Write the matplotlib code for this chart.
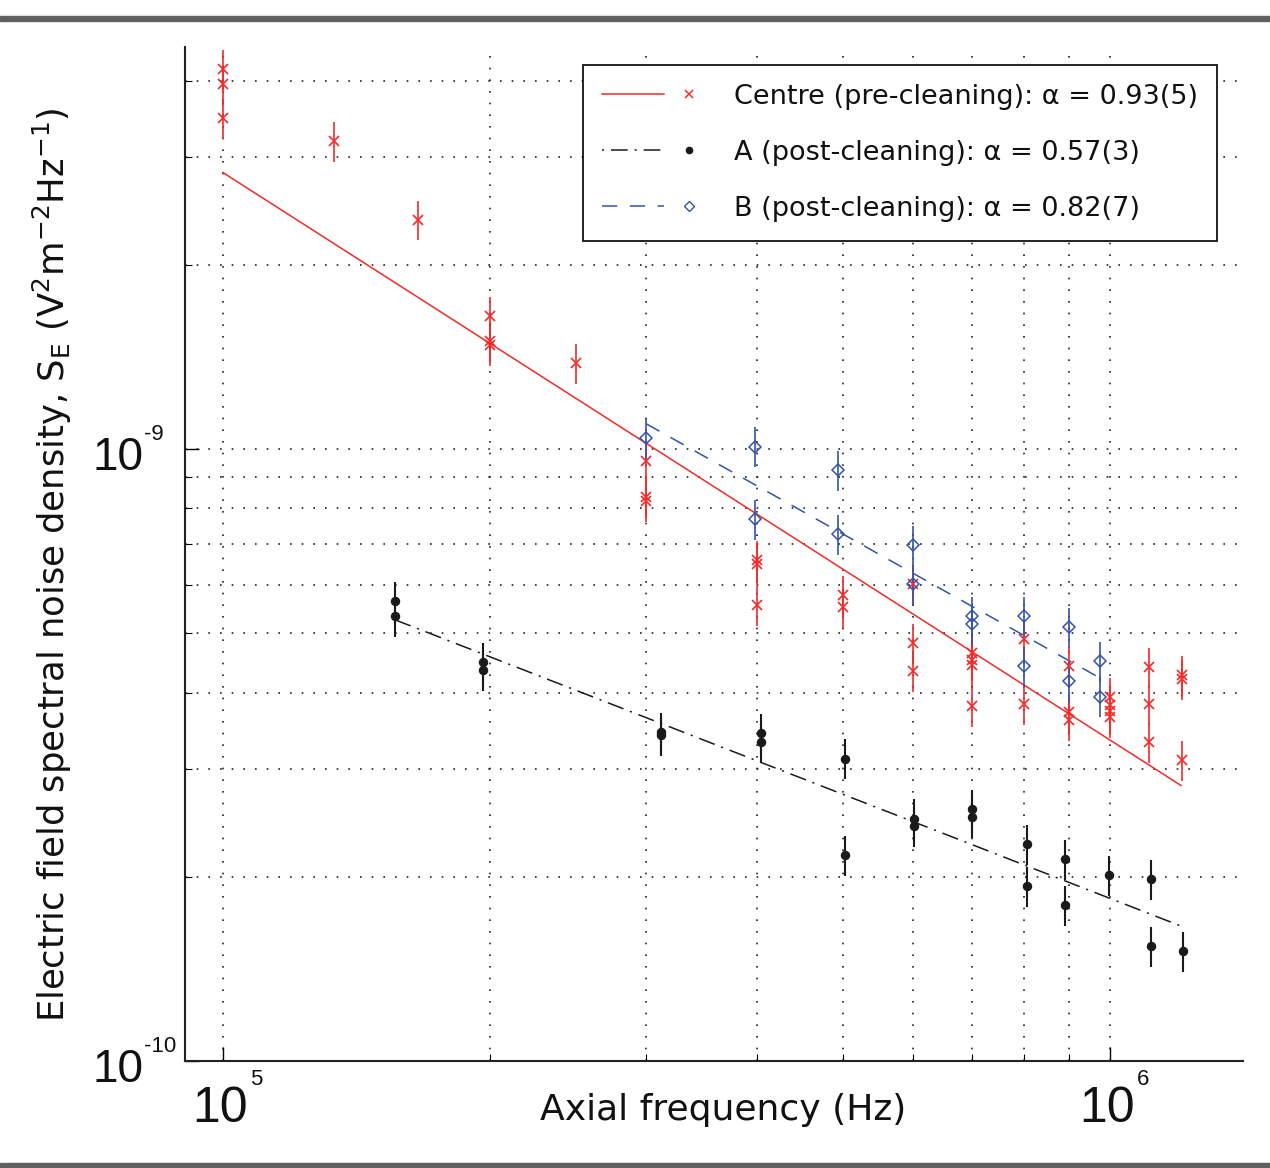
import matplotlib
matplotlib.use("Agg")
import matplotlib.pyplot as plt
from matplotlib.lines import Line2D
from matplotlib.patches import Rectangle
from matplotlib.legend_handler import HandlerTuple
from matplotlib.ticker import LogLocator, NullFormatter
import numpy as np

# Centre electrode, pre-cleaning (red crosses)
centre_freq = [1.0e5, 1.0e5, 1.0e5, 1.334e5, 1.658e5, 2.0e5, 2.0e5, 2.0e5, 2.5e5,
               3.0e5, 3.0e5, 3.0e5, 4.0e5, 4.0e5, 4.0e5, 5.0e5, 5.0e5,
               6.0e5, 6.0e5, 6.0e5, 7.0e5, 7.0e5, 7.0e5, 7.0e5, 8.0e5, 8.0e5,
               9.0e5, 9.0e5, 9.0e5, 1.0e6, 1.0e6, 1.0e6, 1.0e6,
               1.106e6, 1.106e6, 1.106e6, 1.205e6, 1.205e6, 1.205e6]
centre_psd = [4.18e-9, 3.95e-9, 3.47e-9, 3.19e-9, 2.37e-9, 1.65e-9, 1.50e-9, 1.48e-9, 1.38e-9,
              9.56e-10, 8.35e-10, 8.22e-10, 6.59e-10, 6.49e-10, 5.56e-10, 5.77e-10, 5.52e-10,
              6.02e-10, 4.82e-10, 4.34e-10, 4.64e-10, 4.52e-10, 4.44e-10, 3.80e-10, 4.89e-10, 3.83e-10,
              4.42e-10, 3.72e-10, 3.61e-10, 3.93e-10, 3.82e-10, 3.73e-10, 3.65e-10,
              4.40e-10, 3.83e-10, 3.32e-10, 4.27e-10, 4.21e-10, 3.10e-10]

# Electrode A, post-cleaning (black dots)
a_freq = [1.563e5, 1.563e5, 1.964e5, 1.964e5, 3.114e5, 3.114e5, 4.04e5, 4.04e5,
          5.03e5, 5.03e5, 6.01e5, 6.01e5, 7.0e5, 7.0e5, 8.07e5, 8.07e5,
          8.89e5, 8.89e5, 9.97e5, 1.113e6, 1.113e6, 1.208e6]
a_psd = [5.64e-10, 5.33e-10, 4.49e-10, 4.35e-10, 3.45e-10, 3.41e-10, 3.43e-10, 3.32e-10,
         3.12e-10, 2.17e-10, 2.49e-10, 2.42e-10, 2.58e-10, 2.50e-10, 2.26e-10, 1.93e-10,
         2.14e-10, 1.80e-10, 2.01e-10, 1.98e-10, 1.54e-10, 1.51e-10]

# Electrode B, post-cleaning (blue diamonds)
b_freq = [3.0e5, 3.98e5, 3.98e5, 4.94e5, 4.94e5, 6.0e5, 6.0e5, 7.0e5, 7.0e5,
          8.0e5, 8.0e5, 8.99e5, 8.99e5, 9.75e5, 9.75e5]
b_psd = [1.043e-9, 1.009e-9, 7.69e-10, 9.25e-10, 7.26e-10, 6.97e-10, 6.02e-10, 5.34e-10, 5.17e-10,
         5.34e-10, 4.42e-10, 5.12e-10, 4.18e-10, 4.50e-10, 3.94e-10]

# relative error bar size
err_frac = 0.075

# power-law fit lines (end points)
centre_fit_freq = [1.0e5, 1.203e6]
centre_fit_psd = [2.83e-9, 2.82e-10]
a_fit_freq = [1.563e5, 1.205e6]
a_fit_psd = [5.26e-10, 1.66e-10]
b_fit_freq = [3.0e5, 9.79e5]
b_fit_psd = [1.10e-9, 4.21e-10]

labels = [
    "Centre (pre-cleaning): α = 0.93(5)",
    "A (post-cleaning): α = 0.57(3)",
    "B (post-cleaning): α = 0.82(7)",
]

RED = "#f22a2a"
BLACK = "#1a1a1a"
BLUE = "#3553a8"

TICK_FONT = ["Liberation Sans", "DejaVu Sans"]


def power_label(ax, value, exponent, axis):
    if axis == "x":
        xy, coords = (value, 0), ("data", "axes fraction")
        base_off, exp_off, ha = (-3, -61), (27, -24), "center"
        size = 36
    else:
        xy, coords = (0, value), ("axes fraction", "data")
        base_off, exp_off, ha = (-42, -21), (-41, 9), "right"
        size = 33
    ax.annotate("10", xy=xy, xycoords=coords, xytext=base_off,
                textcoords="offset pixels", ha=ha, va="baseline",
                fontsize=size, family=TICK_FONT, color="#111111",
                annotation_clip=False)
    ax.annotate(exponent, xy=xy, xycoords=coords, xytext=exp_off,
                textcoords="offset pixels", ha="left", va="baseline",
                fontsize=16, family=TICK_FONT, color="#111111",
                annotation_clip=False)


def main():
    plt.rcParams["font.family"] = ["DejaVu Sans"]
    plt.rcParams["lines.scale_dashes"] = False

    fig = plt.figure(figsize=(12.7, 11.68), dpi=100)
    ax = fig.add_axes([185 / 1270, 107 / 1168, 1058 / 1270, 1014 / 1168])

    ax.set_xscale("log")
    ax.set_yscale("log")
    ax.set_xlim(9.06e4, 1.413e6)
    ax.set_ylim(1e-10, 4.54e-9)

    # data with error bars
    cy = np.array(centre_psd)
    ax.errorbar(centre_freq, cy, yerr=err_frac * cy, fmt="x", color=RED,
                ms=7, mew=1.2, elinewidth=1.2, capsize=0, zorder=4)
    ay = np.array(a_psd)
    ax.errorbar(a_freq, ay, yerr=err_frac * ay, fmt="o", color=BLACK,
                ms=5.8, elinewidth=1.5, capsize=0, zorder=4)
    by = np.array(b_psd)
    ax.errorbar(b_freq, by, yerr=err_frac * by, fmt="D", color=BLUE, mfc="none",
                ms=6.3, mew=1.1, elinewidth=1.2, capsize=0, zorder=4)

    # fits
    ax.plot(centre_fit_freq, centre_fit_psd, color=RED, lw=1.1, zorder=3)
    ax.plot(a_fit_freq, a_fit_psd, color=BLACK, lw=1.1,
            linestyle=(0, (12, 5, 1.5, 5)), zorder=3)
    ax.plot(b_fit_freq, b_fit_psd, color=BLUE, lw=1.1,
            linestyle=(0, (11, 9)), zorder=3)

    # axes styling
    for side in ["top", "right"]:
        ax.spines[side].set_visible(False)
    for side in ["left", "bottom"]:
        ax.spines[side].set_linewidth(1.5)
        ax.spines[side].set_color("#222222")

    ax.xaxis.set_major_locator(LogLocator(base=10, numticks=10))
    ax.yaxis.set_major_locator(LogLocator(base=10, numticks=10))
    ax.xaxis.set_minor_locator(LogLocator(base=10, subs=np.arange(2, 10), numticks=20))
    ax.yaxis.set_minor_locator(LogLocator(base=10, subs=np.arange(2, 10), numticks=20))
    for axis in [ax.xaxis, ax.yaxis]:
        axis.set_major_formatter(NullFormatter())
        axis.set_minor_formatter(NullFormatter())
    ax.tick_params(which="major", direction="in", length=10, width=1.0)
    ax.tick_params(which="minor", direction="in", length=5, width=0.8)

    ax.grid(True, which="both", color="#222222", linestyle=(0, (1.2, 7.2)),
            linewidth=1.2)

    power_label(ax, 1e5, "5", "x")
    power_label(ax, 1e6, "6", "x")
    power_label(ax, 1e-9, "-9", "y")
    power_label(ax, 1e-10, "-10", "y")

    fig.text(723 / 1270, 1 - 1110 / 1168, "Axial frequency (Hz)",
             ha="center", va="center", fontsize=26, color="#111111")
    fig.text(52 / 1270, 1 - 565 / 1168,
             "Electric field spectral noise density, S$_{\\mathrm{E}}$ "
             "(V$^{2}$m$^{-2}$Hz$^{-1}$)",
             rotation=90, ha="center", va="center", fontsize=25.5, color="#111111")

    # legend: line sample then marker, as in the original
    handles = [
        (Line2D([], [], color=RED, lw=1.1),
         Line2D([], [], color=RED, marker="x", ls="none", ms=6, mew=1.1)),
        (Line2D([], [], color=BLACK, lw=1.1, linestyle=(0, (1.5, 5, 12, 5))),
         Line2D([], [], color=BLACK, marker="o", ls="none", ms=4.5)),
        (Line2D([], [], color=BLUE, lw=1.1, linestyle=(0, (11, 9))),
         Line2D([], [], color=BLUE, marker="D", ls="none", ms=5.5, mfc="none", mew=1.0)),
    ]
    leg = ax.legend(handles, labels, loc="upper right",
                    bbox_to_anchor=(1217 / 1270, 1 - 65 / 1168),
                    bbox_transform=fig.transFigure, borderaxespad=0,
                    fontsize=19.5, handlelength=4.35, handletextpad=0.52,
                    labelspacing=1.1, borderpad=0.7, fancybox=False,
                    framealpha=1, edgecolor="#111111",
                    handler_map={tuple: HandlerTuple(ndivide=None, pad=-0.22)})
    leg.get_frame().set_linewidth(1.3)
    for t in leg.get_texts():
        t.set_color("#111111")

    # grey bands at top and bottom of the figure
    fig.add_artist(Rectangle((0, 1 - 21 / 1168), 1, 5 / 1168, color="#606060",
                             transform=fig.transFigure))
    fig.add_artist(Rectangle((0, 0), 1, 5 / 1168, color="#606060",
                             transform=fig.transFigure))

    fig.savefig("out.png", dpi=100)
    plt.close(fig)


if __name__ == "__main__":
    main()
